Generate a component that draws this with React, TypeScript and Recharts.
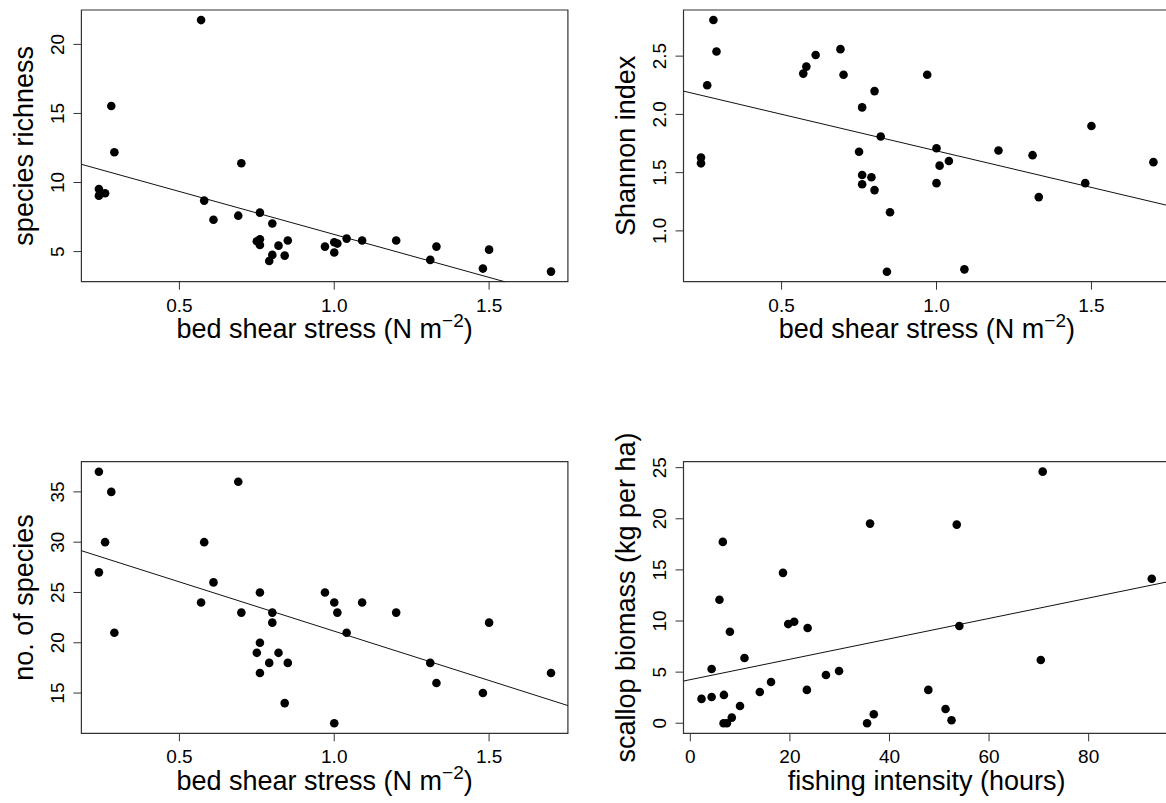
import React from 'react';
import { ScatterChart, Scatter, XAxis, YAxis, ReferenceLine, ReferenceArea, Label } from 'recharts';

const FONT = '"Liberation Sans", Arial, Helvetica, sans-serif';

// ---- Panel A: species richness vs bed shear stress ----
const shearA = [0.57, 0.28, 0.29, 0.24, 0.24, 0.26, 0.70, 0.58, 0.61, 0.69, 0.76, 0.80, 0.75, 0.76, 0.76, 0.80, 0.79, 0.82, 0.84, 0.85, 0.97, 1.00, 1.00, 1.01, 1.04, 1.09, 1.20, 1.31, 1.33, 1.48, 1.50, 1.70];
const richness = [21.76, 15.54, 12.19, 9.53, 9.05, 9.22, 11.39, 8.69, 7.31, 7.60, 7.82, 7.03, 5.75, 5.89, 5.48, 4.76, 4.32, 5.43, 4.71, 5.80, 5.36, 5.68, 4.93, 5.58, 5.94, 5.80, 5.80, 4.40, 5.36, 3.77, 5.14, 3.55];
const fitA = { a: 12.46, b: -6.22 };

// ---- Panel B: Shannon index vs bed shear stress ----
const shearB = [0.28, 0.29, 0.26, 0.24, 0.24, 0.57, 0.58, 0.61, 0.69, 0.70, 0.80, 0.76, 0.82, 0.75, 0.76, 0.79, 0.76, 0.80, 0.85, 0.84, 0.97, 1.00, 1.01, 1.04, 1.00, 1.09, 1.20, 1.31, 1.33, 1.48, 1.50, 1.70];
const shannon = [2.81, 2.54, 2.25, 1.63, 1.58, 2.35, 2.41, 2.51, 2.56, 2.34, 2.20, 2.06, 1.81, 1.68, 1.48, 1.46, 1.40, 1.35, 1.16, 0.65, 2.34, 1.71, 1.56, 1.60, 1.41, 0.67, 1.69, 1.65, 1.29, 1.41, 1.90, 1.59];
const fitB = { a: 2.315, b: -0.628 };

// ---- Panel C: no. of species vs bed shear stress ----
const shearC = [0.24, 0.28, 0.26, 0.24, 0.29, 0.69, 0.58, 0.61, 0.57, 0.70, 0.76, 0.80, 0.80, 0.76, 0.75, 0.82, 0.79, 0.85, 0.76, 0.84, 0.97, 1.00, 1.01, 1.04, 1.09, 1.20, 1.00, 1.31, 1.33, 1.48, 1.50, 1.70];
const nSpecies = [37, 35, 30, 27, 21, 36, 30, 26, 24, 23, 25, 23, 22, 20, 19, 19, 18, 18, 17, 14, 25, 24, 23, 21, 24, 23, 12, 18, 16, 15, 22, 17];
const fitC = { a: 30.95, b: -9.8 };

// ---- Panel D: scallop biomass vs fishing intensity ----
const fishing = [2.25, 4.28, 4.28, 5.85, 6.53, 6.75, 6.68, 7.35, 8.33, 7.95, 9.98, 10.88, 13.96, 16.21, 18.61, 19.66, 20.86, 23.56, 23.41, 27.24, 29.87, 36.10, 35.50, 36.85, 47.80, 51.26, 52.46, 53.51, 54.03, 70.77, 70.39, 92.68];
const biomass = [2.38, 2.57, 5.31, 12.08, 17.74, 2.77, 0.0, 0.0, 0.55, 8.95, 1.69, 6.38, 3.06, 4.04, 14.71, 9.70, 9.93, 9.31, 3.26, 4.72, 5.11, 19.53, 0.0, 0.88, 3.26, 1.40, 0.29, 19.43, 9.51, 24.61, 6.18, 14.13];
const fitD = { a: 4.265, b: 0.0998 };

const shearTicks = [0.5, 1.0, 1.5];
const richnessTicks = [5, 10, 15, 20];
const shannonTicks = [1.0, 1.5, 2.0, 2.5];
const nSpeciesTicks = [15, 20, 25, 30, 35];
const fishingTicks = [0, 20, 40, 60, 80];
const biomassTicks = [0, 5, 10, 15, 20, 25];

const TICK_FS = 19;
const TITLE_FS = 27;
const Y_AXIS_W = 70;
const X_AXIS_H = 60;

function clipLine(a: number, b: number, xd: number[], yd: number[]) {
  let x0 = xd[0];
  let x1 = xd[1];
  if (b !== 0) {
    const xa = (yd[0] - a) / b;
    const xb = (yd[1] - a) / b;
    x0 = Math.max(x0, Math.min(xa, xb));
    x1 = Math.min(x1, Math.max(xa, xb));
  }
  return [
    { x: x0, y: a + b * x0 },
    { x: x1, y: a + b * x1 },
  ];
}

type Box = { l: number; t: number; r: number; b: number };

type PanelProps = {
  left: number;
  top: number;
  width: number;
  height: number;
  box: Box;
  xDomain: number[];
  yDomain: number[];
  xTicks: number[];
  yTicks: number[];
  xs: number[];
  ys: number[];
  fit: { a: number; b: number };
  xTitle: React.ReactNode;
  yTitle: string;
  fmtX: (v: number) => string;
  fmtY: (v: number) => string;
};

function Panel(p: PanelProps) {
  const data = p.xs.map((x, i) => ({ x, y: p.ys[i] }));
  const margin = {
    left: p.box.l - p.left - Y_AXIS_W,
    top: p.box.t - p.top,
    right: p.left + p.width - p.box.r,
    bottom: p.top + p.height - p.box.b - X_AXIS_H,
  };
  const seg = clipLine(p.fit.a, p.fit.b, p.xDomain, p.yDomain);

  const xTick = (props: any) => (
    <text x={props.x} y={props.y + 20} textAnchor="middle" fontSize={TICK_FS} fontFamily={FONT} fill="#000">
      {p.fmtX(props.payload.value)}
    </text>
  );
  const yTick = (props: any) => {
    const tx = props.x - 7;
    return (
      <text
        x={tx}
        y={props.y}
        transform={`rotate(-90, ${tx}, ${props.y})`}
        textAnchor="middle"
        fontSize={TICK_FS}
        fontFamily={FONT}
        fill="#000"
      >
        {p.fmtY(props.payload.value)}
      </text>
    );
  };
  const xTitle = (props: any) => {
    const vb = props.viewBox || {};
    return (
      <text x={vb.x + vb.width / 2} y={vb.y + 56.5} textAnchor="middle" fontSize={TITLE_FS} fontFamily={FONT} fill="#000">
        {p.xTitle}
      </text>
    );
  };
  const yTitle = (props: any) => {
    const vb = props.viewBox || {};
    const tx = vb.x + vb.width - 48.5;
    const ty = vb.y + vb.height / 2;
    return (
      <text x={tx} y={ty} transform={`rotate(-90, ${tx}, ${ty})`} textAnchor="middle" fontSize={TITLE_FS} fontFamily={FONT} fill="#000">
        {p.yTitle}
      </text>
    );
  };

  return (
    <div style={{ position: 'absolute', left: p.left, top: p.top }}>
      <ScatterChart width={p.width} height={p.height} margin={margin}>
        <XAxis
          type="number"
          dataKey="x"
          domain={p.xDomain}
          ticks={p.xTicks}
          interval={0}
          allowDataOverflow
          axisLine={false}
          tickLine={{ stroke: '#333', strokeWidth: 1 }}
          tickSize={8}
          height={X_AXIS_H}
          tick={xTick}
        >
          <Label content={xTitle} />
        </XAxis>
        <YAxis
          type="number"
          dataKey="y"
          domain={p.yDomain}
          ticks={p.yTicks}
          interval={0}
          allowDataOverflow
          axisLine={false}
          tickLine={{ stroke: '#333', strokeWidth: 1 }}
          tickSize={8}
          width={Y_AXIS_W}
          tick={yTick}
        >
          <Label content={yTitle} />
        </YAxis>
        <ReferenceArea
          x1={p.xDomain[0]}
          x2={p.xDomain[1]}
          y1={p.yDomain[0]}
          y2={p.yDomain[1]}
          fill="none"
          fillOpacity={0}
          stroke="#333"
          strokeWidth={1.2}
          ifOverflow="visible"
        />
        <ReferenceLine segment={seg} stroke="#111" strokeWidth={1} ifOverflow="visible" />
        <Scatter
          data={data}
          dataKey="y"
          isAnimationActive={false}
          shape={(s: any) => <circle cx={s.cx} cy={s.cy} r={4.3} fill="#000" />}
        />
      </ScatterChart>
    </div>
  );
}

const shearTitle = (
  <>
    bed shear stress (N m
    <tspan dy={-11} fontSize={19}>−2</tspan>
    <tspan dy={11}>)</tspan>
  </>
);

const f1 = (v: number) => v.toFixed(1);
const f0 = (v: number) => String(v);

export default function App() {
  return (
    <div style={{ position: 'absolute', left: 0, top: 0, width: 1166, height: 803, overflow: 'hidden', background: '#fff' }}>
      <Panel
        left={0}
        top={0}
        width={600}
        height={400}
        box={{ l: 81.4, t: 10, r: 567.9, b: 281.7 }}
        xDomain={[0.1835, 1.7545]}
        yDomain={[2.82, 22.49]}
        xTicks={shearTicks}
        yTicks={richnessTicks}
        xs={shearA}
        ys={richness}
        fit={fitA}
        xTitle={shearTitle}
        yTitle="species richness"
        fmtX={f1}
        fmtY={f0}
      />
      <Panel
        left={600}
        top={0}
        width={580}
        height={400}
        box={{ l: 683.5, t: 10, r: 1170.3, b: 281.7 }}
        xDomain={[0.1835, 1.7545]}
        yDomain={[0.564, 2.896]}
        xTicks={shearTicks}
        yTicks={shannonTicks}
        xs={shearB}
        ys={shannon}
        fit={fitB}
        xTitle={shearTitle}
        yTitle="Shannon index"
        fmtX={f1}
        fmtY={f1}
      />
      <Panel
        left={0}
        top={400}
        width={600}
        height={403}
        box={{ l: 81.4, t: 461.7, r: 567.9, b: 733.3 }}
        xDomain={[0.1835, 1.7545]}
        yDomain={[11, 38]}
        xTicks={shearTicks}
        yTicks={nSpeciesTicks}
        xs={shearC}
        ys={nSpecies}
        fit={fitC}
        xTitle={shearTitle}
        yTitle="no. of species"
        fmtX={f1}
        fmtY={f0}
      />
      <Panel
        left={600}
        top={400}
        width={580}
        height={403}
        box={{ l: 683.5, t: 461.7, r: 1169.8, b: 733.3 }}
        xDomain={[-1.37, 96.3]}
        yDomain={[-0.984, 25.584]}
        xTicks={fishingTicks}
        yTicks={biomassTicks}
        xs={fishing}
        ys={biomass}
        fit={fitD}
        xTitle="fishing intensity (hours)"
        yTitle="scallop biomass (kg per ha)"
        fmtX={f0}
        fmtY={f0}
      />
    </div>
  );
}
